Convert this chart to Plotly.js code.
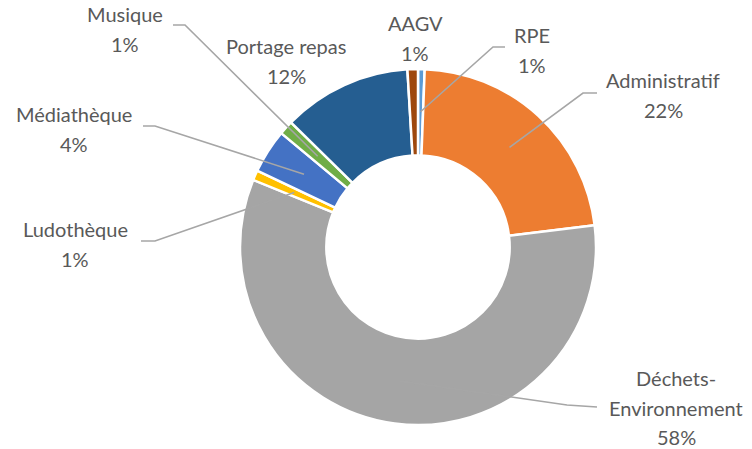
<!DOCTYPE html>
<html>
<head>
<meta charset="utf-8">
<script src="https://cdn.plot.ly/plotly-3.0.1.min.js"></script>
<style>
  html, body { margin: 0; padding: 0; background: #fff; }
  #chart { width: 752px; height: 449px; }
</style>
</head>
<body>
<div id="chart"></div>
<script>
// ---- Data ----
const categories = ['RPE', 'Administratif', 'Déchets-Environnement', 'Ludothèque', 'Médiathèque', 'Musique', 'Portage repas', 'AAGV'];
const values = [0.6, 22.45, 58.1, 0.9, 4.0, 1.3, 11.7, 0.95];
const colors = ['#5B9BD5', '#ED7D31', '#A5A5A5', '#FFC000', '#4472C4', '#70AD47', '#255E91', '#9E480E'];

// ---- Layout constants (pixels) ----
const W = 752, H = 449;
const CX = 418, CY = 247, R = 178;
const HOLE = 0.515;
const LINE_H = 29.5;
// label first-line centre, and optional leader (text-side start, elbow)
const labelLayout = [
  {x: 532, y: 35,  leader: [[505, 47], [493, 47]]},          // RPE
  {x: 663, y: 80,  leader: [[597, 93], [583, 93]]},          // Administratif
  {x: 676, y: 378, leader: [[597, 407], [567, 405]]},        // Déchets
  {x: 75,  y: 229, leader: [[141, 241], [155, 241]]},        // Ludothèque
  {x: 74,  y: 114, leader: [[143, 126], [155, 126]]},        // Médiathèque
  {x: 125, y: 14,  leader: [[173, 25], [185, 25]]},          // Musique
  {x: 286, y: 46,  leader: null},                            // Portage repas
  {x: 415, y: 23,  leader: null}                             // AAGV
];

const total = values.reduce((a, b) => a + b, 0);
const px2x = p => p / W;
const px2y = p => 1 - p / H;

const annotations = [];
const shapes = [];
let cum = 0;
categories.forEach((name, i) => {
  const v = values[i];
  const pct = Math.round(v / total * 100) + '%';
  const nameLines = name === 'Déchets-Environnement' ? ['Déchets-', 'Environnement'] : [name];
  const lines = nameLines.concat([pct]);
  const L = labelLayout[i];
  lines.forEach((t, k) => {
    annotations.push({
      xref: 'paper', yref: 'paper',
      x: px2x(L.x), y: px2y(L.y + k * LINE_H),
      xanchor: 'center', yanchor: 'middle',
      text: t, showarrow: false,
      font: {family: 'Lato, Carlito, sans-serif', size: 20, color: '#595959'}
    });
  });
  const mid = (cum + v / 2) / total * 2 * Math.PI;
  cum += v;
  if (L.leader) {
    const ex = CX + 0.76 * R * Math.sin(mid);
    const ey = CY - 0.76 * R * Math.cos(mid);
    const [s, e] = L.leader;
    shapes.push({
      type: 'path', xref: 'paper', yref: 'paper',
      path: `M ${px2x(s[0])},${px2y(s[1])} L ${px2x(e[0])},${px2y(e[1])} L ${px2x(ex)},${px2y(ey)}`,
      line: {color: '#A6A6A6', width: 1.6}
    });
  }
});

const trace = {
  type: 'pie',
  labels: categories,
  values: values,
  sort: false,
  direction: 'clockwise',
  rotation: 0,
  hole: HOLE,
  textinfo: 'none',
  hoverinfo: 'label+percent',
  marker: {colors: colors, line: {color: '#FFFFFF', width: 2.5}},
  domain: {x: [px2x(CX - R), px2x(CX + R)], y: [px2y(CY + R), px2y(CY - R)]},
  showlegend: false
};

const layout = {
  width: W, height: H,
  margin: {l: 0, r: 0, t: 0, b: 0},
  paper_bgcolor: '#FFFFFF',
  plot_bgcolor: '#FFFFFF',
  showlegend: false,
  annotations: annotations,
  shapes: shapes
};

Plotly.newPlot('chart', [trace], layout, {displayModeBar: false, staticPlot: true});
</script>
</body>
</html>
